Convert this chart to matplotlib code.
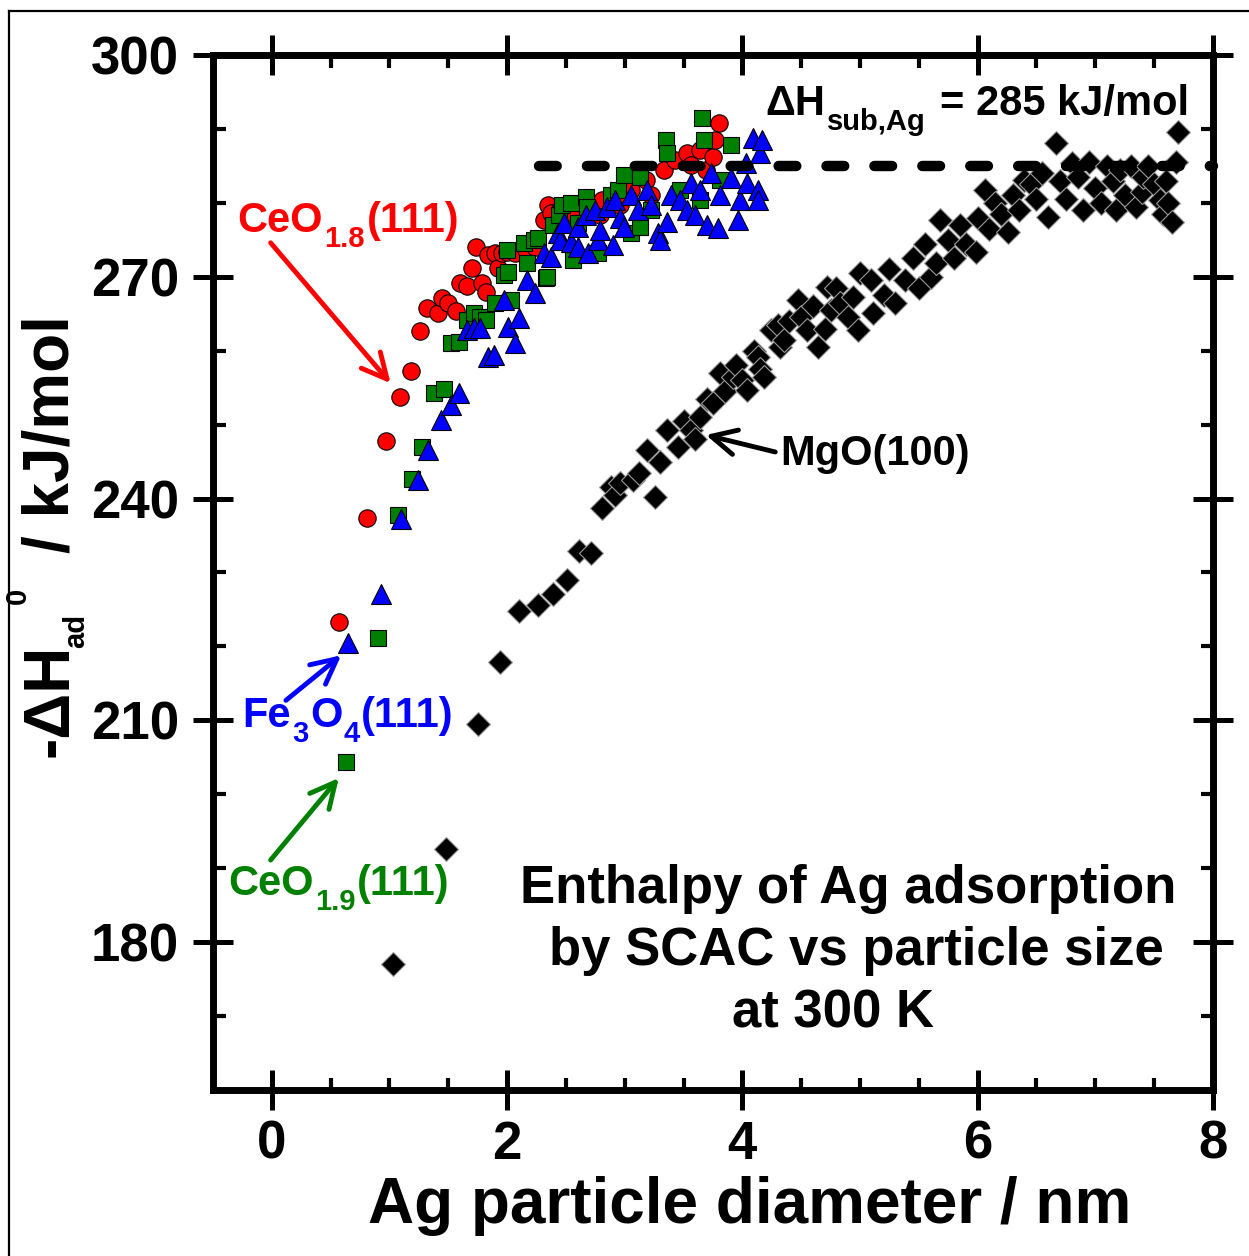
import matplotlib
matplotlib.use("Agg")
import matplotlib.pyplot as plt
from matplotlib.lines import Line2D
from matplotlib.ticker import MultipleLocator
from matplotlib.transforms import offset_copy

plt.rcParams['font.family'] = ['Liberation Sans', 'DejaVu Sans']
plt.rcParams['font.weight'] = 'bold'

# CeO1.8(111) - red circles
ceo18_x = [0.57, 0.81, 0.97, 1.09, 1.18, 1.26, 1.32, 1.41, 1.45, 1.50,
           1.57, 1.60, 1.66, 1.70, 1.74, 1.79, 1.82, 1.84, 1.90, 1.92,
           1.96, 2.00, 2.07, 2.16, 2.24, 2.31, 2.35, 2.37, 2.45, 2.58,
           2.71, 2.79, 2.81, 2.92, 2.96, 3.05, 3.18, 3.22, 3.33, 3.43,
           3.53, 3.56, 3.64, 3.69, 3.75, 3.77, 3.80]
ceo18_y = [223.3, 237.4, 247.8, 253.7, 257.3, 262.7, 265.8, 265.1, 267.1, 266.5,
           265.4, 269.2, 268.8, 271.2, 274.0, 269.2, 267.9, 272.9, 273.2, 271.2,
           273.2, 273.4, 273.2, 273.6, 274.0, 277.7, 279.7, 278.6, 279.0, 278.4,
           279.7, 278.4, 280.4, 281.1, 279.7, 281.7, 283.1, 281.1, 284.4, 285.8,
           286.7, 285.1, 287.1, 284.4, 286.2, 288.5, 290.8]

# CeO1.9(111) - green squares
ceo19_x = [0.63, 0.90, 1.07, 1.19, 1.28, 1.38, 1.46, 1.52, 1.59, 1.66,
           1.72, 1.77, 1.82, 1.90, 1.97, 2.00, 2.01, 2.03, 2.14, 2.17,
           2.23, 2.26, 2.33, 2.34, 2.39, 2.44, 2.47, 2.54, 2.56, 2.60,
           2.67, 2.68, 2.77, 2.88, 2.94, 2.99, 3.05, 3.13, 3.13, 3.22,
           3.35, 3.36, 3.47, 3.64, 3.66, 3.67, 3.81, 3.90]
ceo19_y = [204.4, 221.1, 237.8, 242.6, 247.0, 254.3, 254.8, 261.0, 261.2, 264.2,
           265.1, 264.6, 264.2, 266.5, 270.2, 273.6, 270.6, 266.9, 274.6, 271.9,
           275.0, 275.2, 269.8, 270.0, 277.0, 278.4, 279.7, 280.0, 272.3, 277.3,
           280.8, 279.4, 273.2, 281.1, 281.7, 283.8, 275.9, 283.5, 276.7, 279.0,
           288.5, 286.7, 281.7, 280.4, 291.5, 288.5, 283.1, 287.8]

# Fe3O4(111) - blue triangles
fe3o4_x = [0.65, 0.93, 1.10, 1.24, 1.33, 1.44, 1.52, 1.59, 1.66, 1.72,
           1.77, 1.84, 1.89, 1.97, 2.01, 2.07, 2.10, 2.17, 2.24, 2.31,
           2.37, 2.43, 2.45, 2.48, 2.54, 2.60, 2.60, 2.67, 2.69, 2.75,
           2.77, 2.79, 2.85, 2.90, 2.92, 2.96, 2.99, 3.05, 3.11, 3.19,
           3.22, 3.28, 3.30, 3.36, 3.39, 3.47, 3.53, 3.56, 3.60, 3.64,
           3.70, 3.73, 3.79, 3.81, 3.90, 3.96, 3.98, 4.03, 4.04, 4.09,
           4.13, 4.13, 4.15, 4.17]
fe3o4_y = [220.5, 227.1, 237.2, 242.5, 246.6, 250.6, 252.7, 254.3, 262.8, 263.1,
           263.1, 259.1, 259.4, 266.9, 263.2, 261.0, 264.4, 269.6, 267.8, 273.2,
           272.7, 275.9, 275.0, 277.3, 274.7, 276.7, 274.0, 278.4, 273.2, 279.0,
           275.0, 276.3, 279.4, 274.3, 280.4, 278.0, 276.7, 281.1, 279.0, 281.7,
           279.7, 275.9, 275.0, 277.4, 281.1, 280.4, 279.0, 282.7, 278.4, 281.7,
           277.0, 284.0, 276.6, 281.1, 283.4, 277.7, 280.4, 285.4, 282.7, 288.8,
           281.7, 280.4, 286.7, 288.5]

# MgO(100) - black diamonds
mgo_x = [1.03, 1.48, 1.75, 1.94, 2.10, 2.26, 2.39, 2.51, 2.61, 2.71,
         2.81, 2.88, 2.92, 2.96, 3.07, 3.12, 3.19, 3.26, 3.30, 3.36,
         3.45, 3.50, 3.56, 3.60, 3.64, 3.70, 3.75, 3.81, 3.85, 3.92,
         3.95, 4.00, 4.04, 4.10, 4.13, 4.15, 4.18, 4.24, 4.30, 4.32,
         4.35, 4.40, 4.47, 4.50, 4.55, 4.60, 4.64, 4.70, 4.72, 4.75,
         4.80, 4.83, 4.90, 4.94, 4.98, 5.00, 5.09, 5.11, 5.20, 5.25,
         5.30, 5.38, 5.45, 5.50, 5.55, 5.60, 5.65, 5.68, 5.75, 5.80,
         5.85, 5.90, 5.99, 6.00, 6.06, 6.10, 6.15, 6.20, 6.26, 6.30,
         6.35, 6.39, 6.45, 6.50, 6.55, 6.60, 6.67, 6.70, 6.75, 6.80,
         6.85, 6.90, 6.95, 7.00, 7.05, 7.10, 7.15, 7.18, 7.21, 7.25,
         7.30, 7.35, 7.40, 7.41, 7.45, 7.50, 7.55, 7.58, 7.60, 7.62,
         7.65, 7.69, 7.70]
mgo_y = [177.0, 192.6, 209.5, 217.9, 224.8, 225.6, 227.1, 229.0, 232.9, 232.6,
         238.7, 241.6, 240.5, 242.1, 242.5, 243.5, 246.6, 240.2, 245.0, 249.3,
         247.0, 250.5, 249.3, 248.0, 251.0, 253.5, 252.9, 257.0, 254.5, 256.4,
         258.0, 256.0, 254.7, 260.0, 259.1, 257.5, 256.4, 262.8, 263.5, 260.5,
         261.5, 264.0, 266.9, 264.5, 262.8, 266.0, 260.5, 263.0, 268.6, 265.5,
         268.5, 266.5, 264.5, 267.3, 262.8, 270.5, 269.6, 265.1, 267.5, 271.0,
         266.5, 269.6, 272.5, 268.5, 274.5, 270.0, 271.9, 277.7, 275.0, 272.5,
         277.0, 274.5, 273.4, 278.0, 281.7, 276.5, 280.0, 278.5, 276.1, 281.0,
         279.0, 283.1, 282.5, 280.5, 284.0, 278.1, 288.1, 283.0, 280.5, 285.4,
         283.5, 279.0, 285.5, 282.0, 280.0, 285.0, 283.0, 279.0, 284.4, 281.0,
         285.0, 279.5, 281.5, 283.5, 285.0, 282.5, 280.4, 278.5, 283.0, 280.0,
         277.4, 285.5, 289.6]

dh_sub = 285  # kJ/mol, sublimation enthalpy of Ag

W, H = 1249, 1256
fig = plt.figure(figsize=(W / 100, H / 100), dpi=100)
ax = fig.add_axes([0.1705, 0.1322, 0.8006, 0.8240])
renderer = fig.canvas.get_renderer()

ax.plot(mgo_x, mgo_y, 'D', ms=12.2, mfc='black', mec='#9a9a9a', mew=0.8, ls='none', zorder=3)
ax.plot(ceo18_x, ceo18_y, 'o', ms=12.5, mfc='#ff0000', mec='black', mew=0.8, ls='none', zorder=3)
ax.plot(ceo19_x, ceo19_y, 's', ms=11.5, mfc='#008000', mec='black', mew=0.8, ls='none', zorder=4)
ax.plot(fe3o4_x, fe3o4_y, '^', ms=15, mfc='#0000ff', mec='black', mew=0.8, ls='none', zorder=5)

ax.plot([2.27, 8.0], [dh_sub, dh_sub], color='black', lw=7.5, ls=(0, (1.7, 2.9)),
        dash_capstyle='round', zorder=6, clip_on=False)

ax.set_xlim(-0.5, 8)
ax.set_ylim(160, 300)
ax.xaxis.set_major_locator(MultipleLocator(2))
ax.xaxis.set_minor_locator(MultipleLocator(0.5))
ax.set_yticks([180, 210, 240, 270, 300])
ax.yaxis.set_minor_locator(MultipleLocator(10))

for s in ax.spines.values():
    s.set_linewidth(5)
ax.tick_params(which='both', top=True, right=True)
ax.tick_params(which='major', direction='inout', length=29, width=3.6,
               labelsize=38, pad=10)
ax.tick_params(which='minor', direction='in', length=9, width=3)
ax.tick_params(axis='x', which='major', pad=7)

ax.set_xlabel('Ag particle diameter / nm', fontsize=46, fontweight='bold')
ax.xaxis.set_label_coords(0.537, -0.083)


# y label put together piece by piece (rotated), positions in figure pixels
def ylab_piece(xpx, ypx, s, size):
    fig.text(xpx / W, 1 - ypx / H, s, fontsize=size, fontweight='bold',
             rotation=90, rotation_mode='anchor', ha='left', va='baseline')


ylab_piece(68, 757, '-ΔH', 46)
ylab_piece(84, 648, 'ad', 21)
ylab_piece(26, 604, '0', 21)
ylab_piece(68, 553, '/ kJ/mol', 46)


# labels with dropped subscripts: pieces of (text, size, drop in pt, gap before in pt)
def rich_text(x, y, pieces, color):
    dx = 0.0
    for s, size, dy, gap in pieces:
        dx += gap
        tr = offset_copy(ax.transData, fig=fig, x=dx, y=dy, units='points')
        t = ax.text(x, y, s, fontsize=size, color=color, fontweight='bold',
                    ha='left', va='baseline', transform=tr, zorder=7)
        dx += t.get_window_extent(renderer).width * 72 / fig.dpi


arrow_kw = dict(arrowstyle='->,head_length=0.9,head_width=0.45', lw=3.5,
                shrinkA=0, shrinkB=0, mutation_scale=20)

ax.annotate('', xy=(1.01, 255.6), xytext=(-0.01, 274.6),
            arrowprops=dict(color='#ff0000', **arrow_kw))
rich_text(-0.29, 276.1, [('CeO', 30, 0, 0), ('1.8', 21, -11, 1), ('(111)', 30, 0, 1)], '#ff0000')

ax.annotate('', xy=(0.59, 218.8), xytext=(0.12, 212.7),
            arrowprops=dict(color='#0000ff', **arrow_kw))
rich_text(-0.25, 209.1, [('Fe', 30, 0, 0), ('3', 21, -11, 1), ('O', 30, 0, 1),
                         ('4', 21, -11, 1), ('(111)', 30, 0, 1)], '#0000ff')

ax.annotate('', xy=(0.57, 202.2), xytext=(-0.01, 191.1),
            arrowprops=dict(color='#008000', **arrow_kw))
rich_text(-0.37, 186.4, [('CeO', 30, 0, 0), ('1.9', 21, -11, 1), ('(111)', 30, 0, 1)], '#008000')

ax.annotate('', xy=(3.69, 248.6), xytext=(4.28, 246.3),
            arrowprops=dict(color='black', **arrow_kw))
ax.text(4.32, 244.5, 'MgO(100)', color='black', fontsize=30,
        fontweight='bold', ha='left', va='baseline')

rich_text(4.20, 291.9, [('ΔH', 30, 0, 0), ('sub,Ag', 21, -11, 1),
                        ('= %d kJ/mol' % dh_sub, 30, 0, 10)], 'black')

for line, xc, yb in zip(['Enthalpy of Ag adsorption', 'by SCAC vs particle size', 'at 300 K'],
                        [4.90, 4.97, 4.77], [185.3, 176.9, 168.5]):
    ax.text(xc, yb, line, fontsize=38, fontweight='bold', ha='center', va='baseline')

# thin frame along the left and top edges
fig.add_artist(Line2D([9 / W, 9 / W], [0, 1 - 11 / H], color='black', lw=1.6,
                      transform=fig.transFigure))
fig.add_artist(Line2D([9 / W, 1], [1 - 11 / H, 1 - 11 / H], color='black', lw=1.6,
                      transform=fig.transFigure))

fig.savefig('out.png', dpi=100)
